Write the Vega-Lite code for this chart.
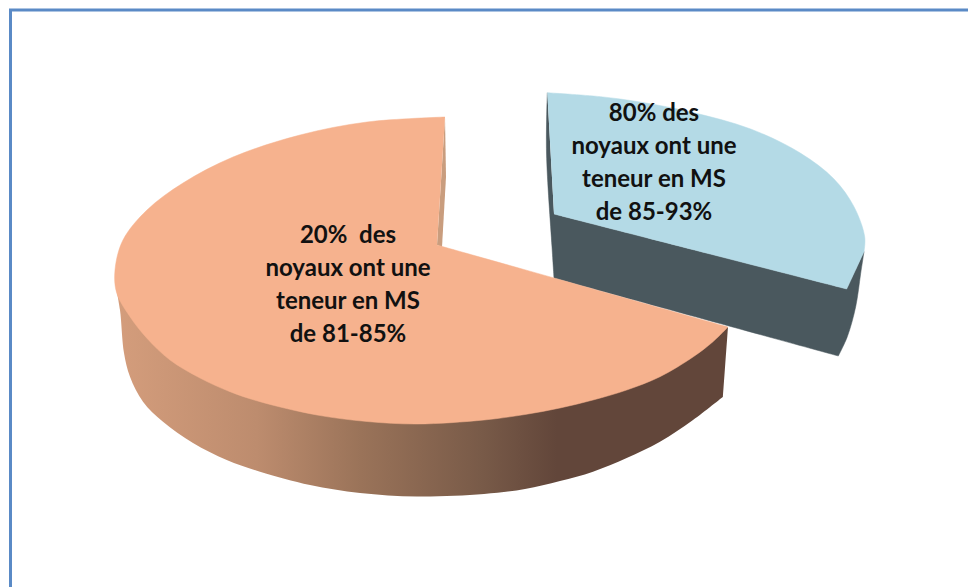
{"$schema":"https://vega.github.io/schema/vega-lite/v6.json","width":968,"height":587,"padding":0,"autosize":{"type":"fit","contains":"padding"},"background":"#ffffff","view":{"stroke":null},
"config":{"axis":{"domain":false,"grid":false}},
"encoding":{"x":{"field":"x","type":"quantitative","scale":{"domain":[0,968],"nice":false,"zero":false},"axis":null},"y":{"field":"y","type":"quantitative","scale":{"domain":[587,0],"nice":false,"zero":false},"axis":null},"order":{"field":"o","type":"quantitative"}},
"layer":[
{"data":{"values":[{"o":1,"x":10.5,"y":587},{"o":2,"x":10.5,"y":10},{"o":3,"x":968,"y":10}]},"mark":{"type":"line","stroke":"#5a8ac6","strokeWidth":3,"strokeJoin":"miter","clip":true}},
{"data":{"values":[{"o":1,"x":547.3,"y":92.7},{"o":2,"x":547.3,"y":92.7},{"o":3,"x":546.5,"y":153},{"o":4,"x":552,"y":247},{"o":5,"x":554,"y":278},{"o":6,"x":554,"y":278},{"o":7,"x":838.3,"y":356},{"o":8,"x":838.3,"y":356},{"o":9,"x":847.3,"y":336.7},{"o":10,"x":855.7,"y":306.7},{"o":11,"x":860.7,"y":273.3},{"o":12,"x":864,"y":251.7},{"o":13,"x":864,"y":251.7},{"o":14,"x":846.7,"y":289},{"o":15,"x":846.7,"y":289},{"o":16,"x":554,"y":214},{"o":17,"x":554,"y":214}]},"mark":{"type":"line","interpolate":"catmull-rom","fill":"#4a585e","stroke":"#4a585e","strokeWidth":0.5}},
{"data":{"values":[{"o":1,"x":547.3,"y":92.7},{"o":2,"x":547.3,"y":92.7},{"o":3,"x":600.7,"y":96.7},{"o":4,"x":640,"y":102},{"o":5,"x":690.7,"y":112},{"o":6,"x":750.7,"y":129},{"o":7,"x":800.7,"y":153.3},{"o":8,"x":834,"y":179},{"o":9,"x":854,"y":206.7},{"o":10,"x":864.7,"y":236.7},{"o":11,"x":864,"y":251.7},{"o":12,"x":864,"y":251.7},{"o":13,"x":846.7,"y":289},{"o":14,"x":846.7,"y":289},{"o":15,"x":554,"y":214},{"o":16,"x":554,"y":214}]},"mark":{"type":"line","interpolate":"catmull-rom","fill":"#b4dae6","stroke":"#b4dae6","strokeWidth":0.5}},
{"data":{"values":[{"o":1,"x":116,"y":287},{"o":2,"x":116,"y":287},{"o":3,"x":120,"y":310},{"o":4,"x":124,"y":353},{"o":5,"x":130,"y":376.7},{"o":6,"x":143,"y":401.7},{"o":7,"x":163,"y":421.7},{"o":8,"x":193,"y":443},{"o":9,"x":226.7,"y":460},{"o":10,"x":260,"y":471.7},{"o":11,"x":310,"y":485},{"o":12,"x":360,"y":493},{"o":13,"x":417,"y":496.5},{"o":14,"x":484,"y":494},{"o":15,"x":525,"y":489},{"o":16,"x":560,"y":481},{"o":17,"x":593,"y":471.7},{"o":18,"x":626.7,"y":458},{"o":19,"x":660,"y":441.7},{"o":20,"x":693,"y":420},{"o":21,"x":723,"y":396.7},{"o":22,"x":723,"y":396.7},{"o":23,"x":728,"y":327},{"o":24,"x":728,"y":327}]},"mark":{"type":"line","interpolate":"catmull-rom","strokeWidth":0,"fill":{"gradient":"linear","x1":0,"y1":0,"x2":1,"y2":0,"stops":[{"offset":0,"color":"#d49d7c"},{"offset":0.23,"color":"#bd8c6e"},{"offset":0.4,"color":"#9a7359"},{"offset":0.6,"color":"#785a48"},{"offset":0.72,"color":"#62463a"},{"offset":1,"color":"#62463a"}]}}},
{"data":{"values":[{"o":1,"x":445,"y":117},{"o":2,"x":446,"y":177},{"o":3,"x":442,"y":247},{"o":4,"x":437,"y":245}]},"mark":{"type":"line","fill":"#c99d7e","strokeWidth":0}},
{"data":{"values":[{"o":1,"x":445,"y":117},{"o":2,"x":445,"y":117},{"o":3,"x":367,"y":122},{"o":4,"x":300,"y":135},{"o":5,"x":233,"y":157},{"o":6,"x":183,"y":183},{"o":7,"x":147,"y":210},{"o":8,"x":123,"y":240},{"o":9,"x":115,"y":270},{"o":10,"x":116.7,"y":293},{"o":11,"x":130,"y":316.7},{"o":12,"x":146.7,"y":338},{"o":13,"x":170,"y":360},{"o":14,"x":200,"y":378},{"o":15,"x":230,"y":391.7},{"o":16,"x":260,"y":401.7},{"o":17,"x":317,"y":415},{"o":18,"x":367,"y":421.5},{"o":19,"x":417,"y":424},{"o":20,"x":484,"y":420},{"o":21,"x":525,"y":414.5},{"o":22,"x":560,"y":408},{"o":23,"x":593,"y":400},{"o":24,"x":626.7,"y":390},{"o":25,"x":660,"y":376.7},{"o":26,"x":693,"y":357},{"o":27,"x":713,"y":341.7},{"o":28,"x":728,"y":327},{"o":29,"x":728,"y":327},{"o":30,"x":437,"y":245},{"o":31,"x":437,"y":245}]},"mark":{"type":"line","interpolate":"catmull-rom","fill":"#f6b28e","stroke":"#f6b28e","strokeWidth":0.5}},
{"data":{"values":[{"t":"80% des","x":654,"y":114},{"t":"noyaux ont une","x":654,"y":147},{"t":"teneur en MS","x":654,"y":180},{"t":"de 85-93%","x":654,"y":213},{"t":"20%\u00a0 des","x":348,"y":236},{"t":"noyaux ont une","x":348,"y":269},{"t":"teneur en MS","x":348,"y":302},{"t":"de 81-85%","x":348,"y":335}]},"mark":{"type":"text","font":"Lato","fontSize":24,"fontWeight":"bold","color":"#111111","align":"center","baseline":"middle"},"encoding":{"text":{"field":"t","type":"nominal"},"order":{"value":null}}}
]}
